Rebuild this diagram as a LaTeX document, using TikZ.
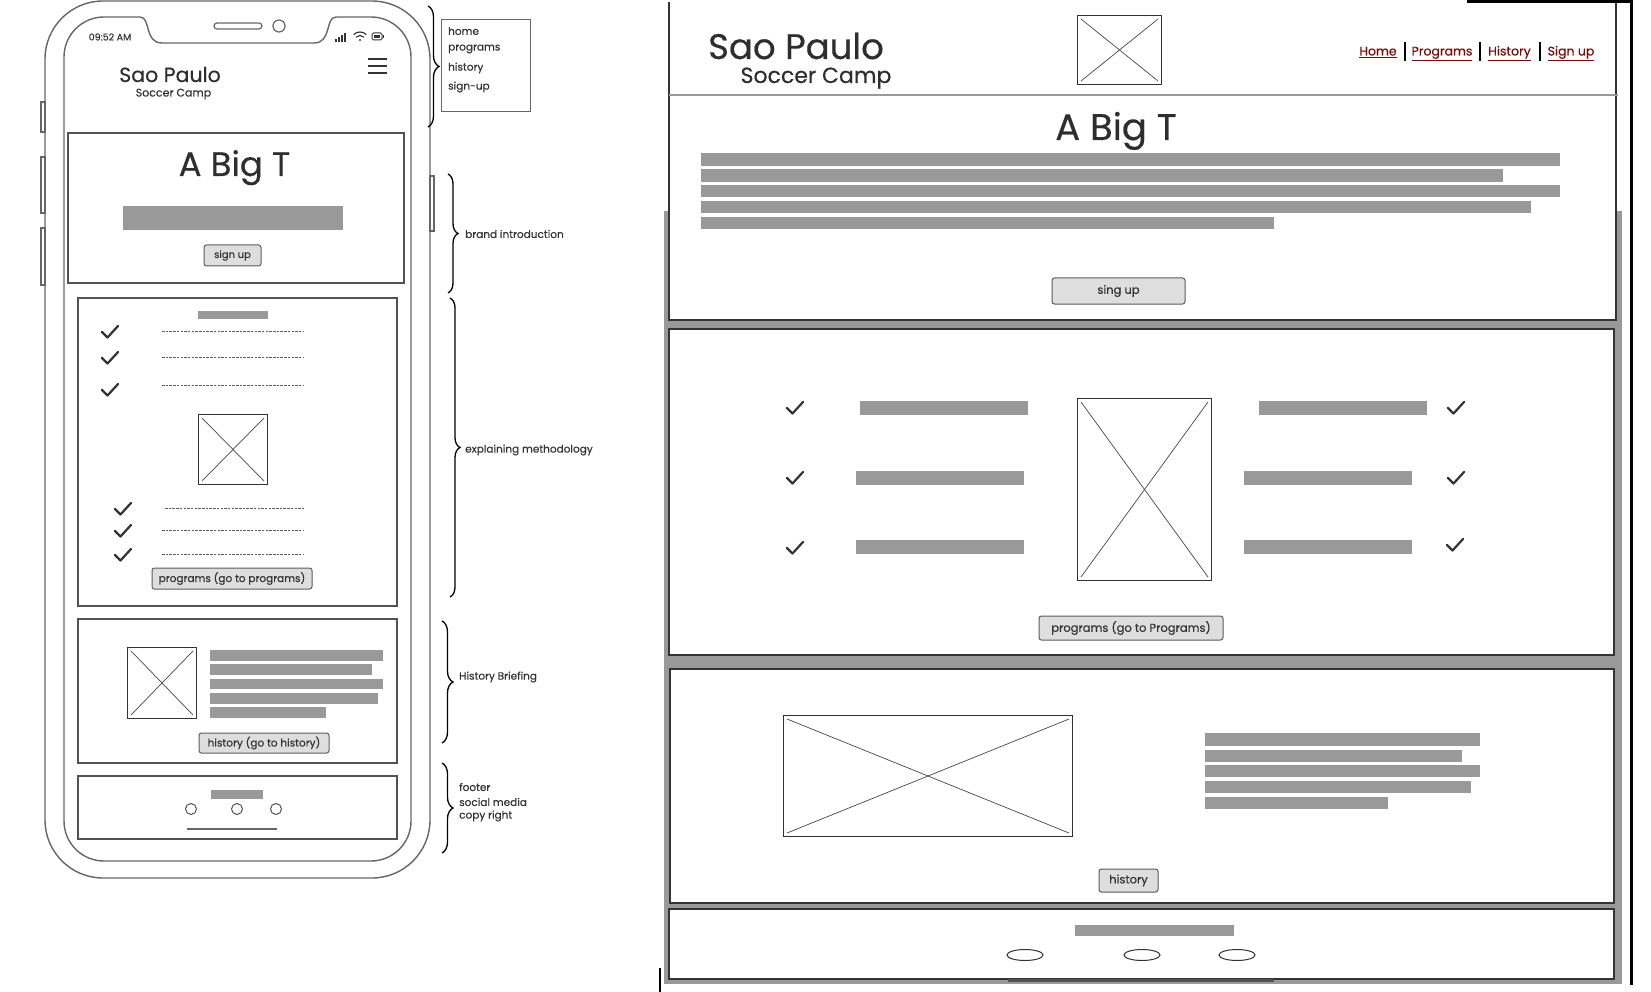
\documentclass[tikz,border=0pt]{standalone}
\usepackage{fontspec}
\setmainfont{Poppins}[FakeBold=0.35]
\usetikzlibrary{decorations.pathreplacing}

\definecolor{ink}{HTML}{333333}
\definecolor{frame}{HTML}{666666}
\definecolor{bar}{HTML}{999999}
\definecolor{btn}{HTML}{DEDEDE}
\definecolor{link}{HTML}{7A0A0A}

\tikzset{
  phone/.style={draw=frame, line width=1.4pt},
  mpanel/.style={draw=ink!85, line width=1.1pt},
  panel/.style={draw=ink, line width=1.2pt, fill=white},
  txtbar/.style={fill=bar},
  imgbox/.style={draw=ink, line width=1pt, fill=white, inner sep=0pt, anchor=north west},
  xline/.style={draw=ink!90, line width=0.7pt},
  tick/.style={draw=ink, line width=2.2pt, line cap=round, line join=round},
  dashline/.style={draw=ink!80, line width=0.7pt, dash pattern=on 2.5pt off 1.2pt},
  btnbox/.style={draw=ink!80, fill=btn, line width=1pt, rounded corners=2.5pt, inner sep=0pt, text=ink},
  note/.style={font=\fontsize{10.5}{13}\selectfont, text=ink, anchor=west, inner sep=0pt},
  curly/.style={decorate, decoration={brace, amplitude=#1}, draw=black, line width=1.3pt},
  navlink/.style={font=\fontsize{12.5}{15}\selectfont, text=link, anchor=base, inner sep=0pt},
  navsep/.style={draw=black, line width=2pt},
  title/.style={text=ink!90!black, anchor=base, inner sep=0pt, text depth=0pt},
}

% image placeholder: rectangle with a cross, corners (x1,y1) and (x2,y2)
\newcommand\placeholder[5]{%
  \pgfmathsetmacro\phw{#4-#2}%
  \pgfmathsetmacro\phh{#5-#3}%
  \node[imgbox, minimum width=\phw pt, minimum height=\phh pt] (#1) at (#2,#3) {};
  \draw[xline] ([shift={(4,4)}]#1.north west) -- ([shift={(-4,-4)}]#1.south east);
  \draw[xline] ([shift={(4,-4)}]#1.south west) -- ([shift={(-4,4)}]#1.north east);
}
% check mark centred near (x,y)
\newcommand\tickmark[2]{%
  \draw[tick] (#1-8,#2) -- (#1-2.5,#2+5.5) -- (#1+8,#2-6);
}

\begin{document}
\begin{tikzpicture}[x=1pt,y=-1pt]
\useasboundingbox (0,0) rectangle (1651,992);
\fill[white] (0,0) rectangle (1651,992);

% ================= phone =================
\draw[phone, rounded corners=58] (45,1) rectangle (430,878);
% side buttons
\draw[phone, line width=1.2pt] (41,102) rectangle (45,132);
\draw[phone, line width=1.2pt] (41,157) rectangle (45,213);
\draw[phone, line width=1.2pt] (41,228) rectangle (45,285);
\draw[phone, line width=1.2pt] (430,176) rectangle (434,231);
% screen outline with notch
\draw[phone, rounded corners=40] (140,17) -- (64,17) -- (64,861) -- (411,861) -- (411,17) -- (336,17);
\draw[phone] (140,17) .. controls (151,17) and (144,43) .. (162,43) -- (314,43) .. controls (332,43) and (325,17) .. (336,17);
% speaker and camera
\draw[phone, line width=1.2pt, rounded corners=3] (214,23) rectangle (262,29);
\draw[phone, line width=1.2pt] (279,26) circle[radius=6];

% status bar
\node[font=\fontsize{9.5}{11}\selectfont, text=ink, inner sep=0pt] (ptime) at (110,37) {09:52 AM};
\foreach \i/\h in {0/3,1/5,2/7,3/9}
  \fill[ink] (335+3*\i,42) rectangle (336.8+3*\i,42-\h);
\draw[ink, line width=1.1pt] ([shift={(225:9)}]360,41) arc[start angle=225,end angle=315,radius=9];
\draw[ink, line width=1.1pt] ([shift={(225:5.5)}]360,41) arc[start angle=225,end angle=315,radius=5.5];
\fill[ink] (360,40) circle[radius=1.2];
\draw[ink, line width=1pt, rounded corners=1.5] (372,33) rectangle (382,40);
\fill[ink] (373.8,34.8) rectangle (379.5,38.2);
\fill[ink] (382.5,35) rectangle (384,38);

% header
\node[title, font=\fontsize{20.5}{24}\selectfont] (ptitle) at (170,82) {Sao Paulo};
\node[font=\fontsize{11}{13}\selectfont, text=ink, anchor=base, inner sep=0pt] (psub) at (173.5,96.5) {Soccer Camp};
\draw[ink, line width=1.8pt] (368,59) -- (387,59) (368,66) -- (387,66) (368,73) -- (387,73);

% hero
\draw[mpanel] (68,133) rectangle (404,283);
\node[title, font=\fontsize{34}{40}\selectfont] (pbig) at (234.5,176) {A Big T};
\fill[txtbar] (123,206) rectangle (343,230);
\node[btnbox, minimum width=57pt, minimum height=21pt, font=\fontsize{10}{12}\selectfont] (psign) at (232.5,255.5) {sign up};

% methodology
\draw[mpanel] (78,298) rectangle (397,606);
\fill[txtbar] (198,311) rectangle (268,319);
\foreach \y in {332,358,390} {\tickmark{110}{\y}}
\foreach \y in {509,531,555} {\tickmark{123}{\y}}
\draw[dashline] (162,331) -- (303,331);
\draw[dashline] (162,357) -- (303,357);
\draw[dashline] (162,385) -- (303,385);
\draw[dashline] (165,508) -- (305,508);
\draw[dashline] (162,530) -- (303,530);
\draw[dashline] (162,554) -- (303,554);
\placeholder{pimg1}{198}{414}{267}{484}
\node[btnbox, minimum width=160pt, minimum height=21pt, font=\fontsize{10.5}{12}\selectfont] (pprog) at (232,578.5) {programs (go to programs)};

% history
\draw[mpanel] (78,619) rectangle (397,763);
\placeholder{pimg2}{127}{647}{196}{718}
\fill[txtbar] (210,650) rectangle (383,661);
\fill[txtbar] (210,664) rectangle (372,675);
\fill[txtbar] (210,679) rectangle (383,689);
\fill[txtbar] (210,693) rectangle (378,704);
\fill[txtbar] (210,707) rectangle (326,718);
\node[btnbox, minimum width=130pt, minimum height=20pt, font=\fontsize{10.5}{12}\selectfont] (phist) at (264,743) {history (go to history)};

% footer
\draw[mpanel] (78,776) rectangle (397,839);
\fill[txtbar] (211,790) rectangle (263,799);
\foreach \x in {191,237,276} \draw[ink!85, line width=1pt] (\x,809) circle[radius=5.5];
\draw[frame, line width=1.2pt] (187,829) -- (277,829);

% ================= annotations =================
\draw[curly=11] (428,6) -- (428,127);
\draw[frame, line width=1pt] (441,20) rectangle (530,112);
\node[note] (nhome) at (448,31) {home};
\node[note] (nprog) at (448,49) {programs};
\node[note] (nhist) at (448,68) {history};
\node[note] (nsign) at (448,87) {sign-up};

\draw[curly=10] (448,174) -- (448,293);
\node[note] (abrand) at (465,234) {brand introduction};
\draw[curly=10] (450,298) -- (450,597);
\node[note] (ameth) at (465,450) {explaining methodology};
\draw[curly=11] (442,621) -- (442,743);
\node[note] (ahist) at (459,677) {History Briefing};
\draw[curly=11] (442,763) -- (442,853);
\node[note] (afoot1) at (459,787) {footer};
\node[note] (afoot2) at (459,802) {social media};
\node[note] (afoot3) at (459,816) {copy right};

% ================= desktop =================
\fill[bar] (664,211) rectangle (1622,984);
\fill[white] (669,0) rectangle (1616,320);
\draw[ink, line width=1.2pt] (669,2) -- (669,320) -- (1616,320) -- (1616,2);
\draw[bar, line width=2pt] (669,95) -- (1618,95);
\draw[black, line width=3pt] (1467,1.5) -- (1631,1.5) -- (1631,985);
\draw[black, line width=1.5pt] (660,968) -- (660,992);

% header
\node[title, font=\fontsize{35.5}{42}\selectfont] (dtitle) at (796,59) {Sao Paulo};
\node[title, font=\fontsize{22}{26}\selectfont] (dsub) at (816,83) {Soccer Camp};
\placeholder{dlogo}{1077}{15}{1161}{84}
\node[navlink] (lhome) at (1378,55.5) {\underline{Home}};
\node[navlink] (lprog) at (1442,55.5) {\underline{Programs}};
\node[navlink] (lhist) at (1509.5,55.5) {\underline{History}};
\node[navlink] (lsign) at (1571,55.5) {\underline{Sign up}};
\draw[navsep] (1405,42) -- (1405,61);
\draw[navsep] (1480,42) -- (1480,61);
\draw[navsep] (1540,42) -- (1540,61);

% hero
\node[title, font=\fontsize{37}{42}\selectfont] (dbig) at (1116,140) {A Big T};
\fill[txtbar] (701,153) rectangle (1560,166);
\fill[txtbar] (701,169) rectangle (1503,182);
\fill[txtbar] (701,185) rectangle (1560,197);
\fill[txtbar] (701,201) rectangle (1531,213);
\fill[txtbar] (701,217) rectangle (1274,229);
\node[btnbox, minimum width=133pt, minimum height=26pt, font=\fontsize{11.5}{13}\selectfont] (dsign) at (1118.5,291) {sing up};

% programs
\draw[panel] (669,329) rectangle (1614,655);
\foreach \y in {408,478,548} {\tickmark{795}{\y}}
\tickmark{1456}{408}
\tickmark{1456}{478}
\tickmark{1455}{545}
\fill[txtbar] (860,401) rectangle (1028,415);
\fill[txtbar] (856,471) rectangle (1024,485);
\fill[txtbar] (856,540) rectangle (1024,554);
\fill[txtbar] (1259,401) rectangle (1427,415);
\fill[txtbar] (1244,471) rectangle (1412,485);
\fill[txtbar] (1244,540) rectangle (1412,554);
\placeholder{dimg1}{1077}{398}{1211}{580}
\node[btnbox, minimum width=184pt, minimum height=24pt, font=\fontsize{11.5}{13}\selectfont] (dprog) at (1131,628) {programs (go to Programs)};

% history
\draw[panel] (670,669) rectangle (1614,903);
\placeholder{dimg2}{783}{715}{1072}{836}
\fill[txtbar] (1205,733) rectangle (1480,746);
\fill[txtbar] (1205,750) rectangle (1462,762);
\fill[txtbar] (1205,765) rectangle (1480,777);
\fill[txtbar] (1205,781) rectangle (1471,793);
\fill[txtbar] (1205,797) rectangle (1388,809);
\node[btnbox, minimum width=59pt, minimum height=23pt, font=\fontsize{11.5}{13}\selectfont] (dhist) at (1128.5,880.5) {history};

% footer
\draw[panel] (669,909) rectangle (1614,979);
\fill[txtbar] (1075,925) rectangle (1234,936);
\foreach \x in {1025,1142,1237} \draw[ink, line width=1pt] (\x,955) ellipse[x radius=18, y radius=5.5];
\draw[ink!85, line width=2.5pt] (1008,980.5) -- (1274,980.5);

\end{tikzpicture}
\end{document}
